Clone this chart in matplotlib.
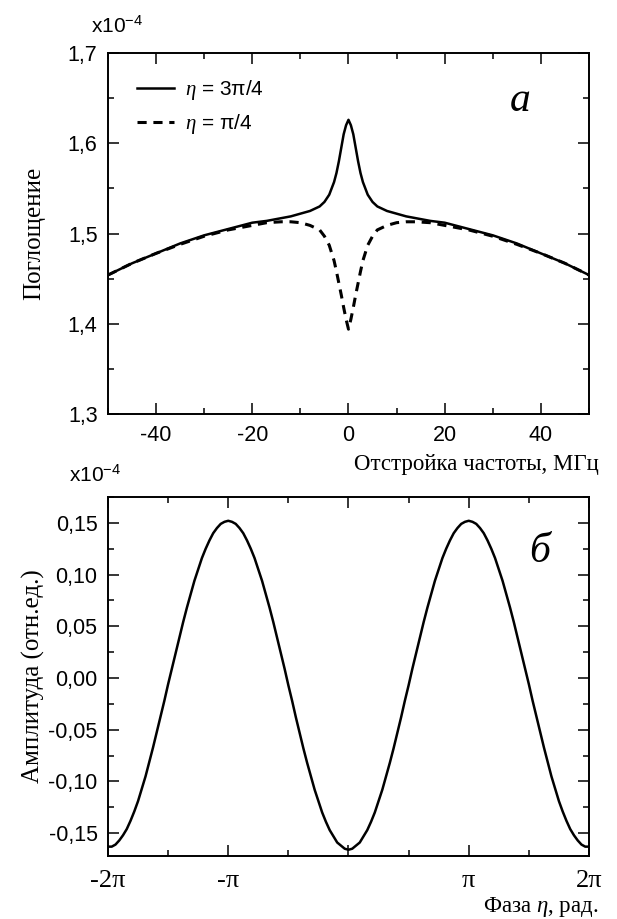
import numpy as np
import matplotlib
matplotlib.use('Agg')
import matplotlib.pyplot as plt
from matplotlib.ticker import MultipleLocator, FixedLocator, FuncFormatter

plt.rcParams['font.family'] = ['Liberation Sans', 'DejaVu Sans']
plt.rcParams['mathtext.fontset'] = 'custom'
plt.rcParams['mathtext.rm'] = 'Liberation Sans'
plt.rcParams['mathtext.it'] = 'Liberation Serif:italic'
plt.rcParams['axes.unicode_minus'] = False

# panel a: absorption vs detuning (units of 1e-4)
detuning = [-50, -45, -40, -35, -30, -25, -20, -17, -14, -12, -10, -8, -6, -5, -4, -3, -2.5, -2, -1.5, -1, -0.5, 0,
            0.5, 1, 1.5, 2, 2.5, 3, 4, 5, 6, 8, 10, 12, 14, 17, 20, 25, 30, 35, 40, 45, 50]
absorb_3pi4 = [1.454, 1.467, 1.478, 1.489, 1.498, 1.505, 1.512, 1.514, 1.517, 1.519, 1.522, 1.525, 1.530, 1.535, 1.543, 1.557, 1.567, 1.580, 1.595, 1.610, 1.620, 1.626,
               1.620, 1.610, 1.595, 1.580, 1.567, 1.557, 1.543, 1.535, 1.530, 1.525, 1.522, 1.519, 1.517, 1.514, 1.512, 1.505, 1.498, 1.489, 1.478, 1.467, 1.454]
absorb_pi4 = [1.454, 1.467, 1.478, 1.488, 1.497, 1.504, 1.509, 1.512, 1.513, 1.513, 1.512, 1.509, 1.504, 1.497, 1.487, 1.470, 1.458, 1.445, 1.432, 1.418, 1.405, 1.394,
              1.405, 1.418, 1.432, 1.445, 1.458, 1.470, 1.487, 1.497, 1.504, 1.509, 1.512, 1.513, 1.513, 1.512, 1.509, 1.504, 1.497, 1.488, 1.478, 1.467, 1.454]

# panel b: amplitude (units of 1e-4) vs phase, phase in steps of pi/32 from -2pi to 2pi
phase_steps = list(range(-64, 65))
amplitude = [
    -0.163, -0.163, -0.161, -0.157, -0.152, -0.146, -0.138, -0.129, -0.119, -0.107, -0.095, -0.081, -0.067, -0.052, -0.037, -0.022,
    -0.006, 0.009, 0.024, 0.039, 0.054, 0.068, 0.081, 0.094, 0.105, 0.116, 0.125, 0.133, 0.140, 0.145, 0.149, 0.151,
    0.152,
    0.151, 0.149, 0.145, 0.140, 0.133, 0.125, 0.116, 0.105, 0.094, 0.081, 0.068, 0.054, 0.039, 0.024, 0.009, -0.007,
    -0.022, -0.038, -0.053, -0.068, -0.082, -0.095, -0.108, -0.119, -0.130, -0.139, -0.147, -0.153, -0.159, -0.162, -0.165,
    -0.166,
    -0.165, -0.162, -0.159, -0.153, -0.147, -0.139, -0.130, -0.119, -0.108, -0.095, -0.082, -0.068, -0.053, -0.038, -0.022,
    -0.007, 0.009, 0.024, 0.039, 0.054, 0.068, 0.081, 0.094, 0.105, 0.116, 0.125, 0.133, 0.140, 0.145, 0.149, 0.151,
    0.152,
    0.151, 0.149, 0.145, 0.140, 0.133, 0.125, 0.116, 0.105, 0.094, 0.081, 0.068, 0.054, 0.039, 0.024, 0.009, -0.006,
    -0.022, -0.037, -0.052, -0.067, -0.081, -0.095, -0.107, -0.119, -0.129, -0.138, -0.146, -0.152, -0.157, -0.161, -0.163, -0.163,
]
phase = np.array(phase_steps) * np.pi / 32

pi_ticks = [-2 * np.pi, -np.pi, 0, np.pi, 2 * np.pi]
pi_labels = ['-2π', '-π', '', 'π', '2π']

serif = 'Liberation Serif'
comma = lambda n: FuncFormatter(lambda v, p: f'{v:.{n}f}'.replace('.', ','))


def style_axes(ax):
    ax.tick_params(which='both', direction='in', top=True, right=True, width=1.1)
    ax.tick_params(which='major', length=8, labelsize=15.5, pad=7.5)
    ax.tick_params(which='minor', length=4.5)
    for s in ax.spines.values():
        s.set_linewidth(1.4)


fig = plt.figure(figsize=(6.17, 9.19), dpi=100)

ax1 = fig.add_axes([0.175, 0.5495, 0.7796, 0.3928])
ax1.plot(detuning, absorb_3pi4, color='black', lw=1.8, label=r'$\eta$ = 3π/4')
ax1.plot(detuning, absorb_pi4, color='black', lw=2.2, ls=(0, (3, 2.2)), label=r'$\eta$ = π/4')
ax1.set_xlim(-50, 50)
ax1.set_ylim(1.3, 1.7)
ax1.xaxis.set_major_locator(MultipleLocator(20))
ax1.xaxis.set_minor_locator(MultipleLocator(10))
ax1.yaxis.set_major_locator(MultipleLocator(0.1))
ax1.yaxis.set_minor_locator(MultipleLocator(0.05))
ax1.yaxis.set_major_formatter(comma(1))
style_axes(ax1)
ax1.tick_params(axis='x', pad=8)
ax1.legend(loc='upper left', frameon=False, fontsize=15, handlelength=1.8, handletextpad=0.5,
           borderaxespad=0.3, labelspacing=0.45, bbox_to_anchor=(0.03, 0.97))
ax1.text(0.857, 0.84, 'а', transform=ax1.transAxes, fontsize=30, family=serif, style='italic', ha='center')
ax1.text(-0.035, 1.045, r'x10$^{-4}$', transform=ax1.transAxes, fontsize=15, ha='left', va='bottom')
ax1.set_ylabel('Поглощение', family=serif, fontsize=18)
ax1.yaxis.set_label_coords(-0.13, 0.5)
ax1.set_xlabel('Отстройка частоты, МГц', family=serif, fontsize=16.5)
ax1.xaxis.set_label_coords(1.02, -0.11)
ax1.xaxis.label.set_ha('right')

ax2 = fig.add_axes([0.175, 0.0686, 0.7796, 0.3906])
ax2.plot(phase, amplitude, color='black', lw=1.8)
ax2.set_xlim(-2 * np.pi, 2 * np.pi)
ax2.set_ylim(-0.172, 0.175)
ax2.xaxis.set_major_locator(FixedLocator(pi_ticks))
ax2.set_xticklabels(pi_labels, family=serif, fontsize=19)
ax2.xaxis.set_minor_locator(MultipleLocator(np.pi / 2))
ax2.yaxis.set_major_locator(MultipleLocator(0.05))
ax2.yaxis.set_minor_locator(MultipleLocator(0.025))
ax2.yaxis.set_major_formatter(comma(2))
style_axes(ax2)
ax2.tick_params(axis='x', labelsize=19, pad=10)
ax2.text(0.898, 0.82, 'б', transform=ax2.transAxes, fontsize=30, family=serif, style='italic', ha='center')
ax2.text(-0.08, 1.03, r'x10$^{-4}$', transform=ax2.transAxes, fontsize=15, ha='left', va='bottom')
ax2.set_ylabel('Амплитуда (отн.ед.)', family=serif, fontsize=18)
ax2.yaxis.set_label_coords(-0.13, 0.5)
ax2.set_xlabel(r'Фаза $\eta$, рад.', family=serif, fontsize=16.5)
ax2.xaxis.set_label_coords(1.02, -0.11)
ax2.xaxis.label.set_ha('right')

fig.savefig('out.png', dpi=100)
